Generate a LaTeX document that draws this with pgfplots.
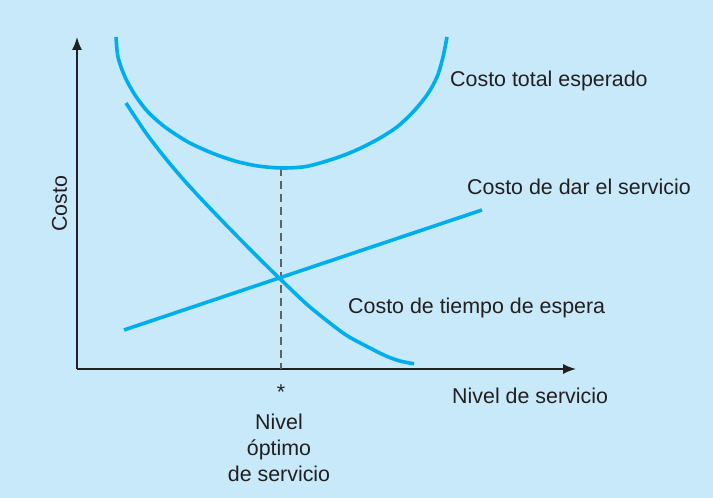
\documentclass[border=0pt]{standalone}
\usepackage{pgfplots}
\pgfplotsset{compat=1.18}
\usetikzlibrary{arrows.meta}
\usepackage{fontspec}
\setmainfont{Liberation Sans}
\definecolor{fondo}{HTML}{C7E9F9}
\definecolor{curva}{HTML}{00AEEF}
\definecolor{texto}{HTML}{231F20}
\definecolor{guia}{HTML}{5F6368}
\tikzset{lab/.style={text=texto, font=\fontsize{21.4}{25}\selectfont, inner sep=0pt}}
\begin{document}
\begin{tikzpicture}
\begin{axis}[
    scale only axis,
    width=713pt, height=498pt,
    xmin=0, xmax=713, ymin=0, ymax=498,
    hide axis,
    clip=false,
    axis background/.style={fill=fondo},
]
% ejes
\addplot[line width=1.5pt, color=texto, -{Latex[length=13pt,width=10pt]}] coordinates {(77,129) (77,461)};
\addplot[line width=1.5pt, color=texto, -{Latex[length=13pt,width=10pt]}] coordinates {(77,129) (576,129)};
% nivel optimo
\addplot[line width=2pt, color=guia, dash pattern=on 8pt off 5pt] coordinates {(281,330) (281,129)};
% costo total esperado
\addplot[line width=3.6pt, color=curva, smooth] coordinates {
(116,461) (118,441) (125,421) (135,403) (148,386) (165,371) (188,356) (212,345)
(235,337) (258,332) (282,330) (306,331.5) (330,338) (347,344) (363,351) (380,360)
(397,371) (413,386) (427,403) (437,421) (443,441) (447,461)};
% costo de tiempo de espera
\addplot[line width=3.6pt, color=curva, smooth] coordinates {
(126,395) (146,365) (166,339) (186,315.6) (206,294) (226,273.2) (246,252.8)
(266,232.8) (286,213.4) (306,194.4) (326,178) (346,163) (366,152) (386,142)
(400,137) (414,134.2)};
% costo de dar el servicio
\addplot[line width=3.6pt, color=curva] coordinates {(124,168) (482,288)};

\node[lab, anchor=base west] at (axis cs:450,411) {Costo total esperado};
\node[lab, anchor=base west] at (axis cs:467,303) {Costo de dar el servicio};
\node[lab, anchor=base west] at (axis cs:348,184) {Costo de tiempo de espera};
\node[lab, anchor=base west] at (axis cs:452,94) {Nivel de servicio};
\node[lab, anchor=base, rotate=90] at (axis cs:67,294) {Costo};
\node[lab, anchor=center] at (axis cs:281,106) {*};
\node[lab, anchor=base] at (axis cs:279,68) {Nivel};
\node[lab, anchor=base] at (axis cs:279,42) {óptimo};
\node[lab, anchor=base] at (axis cs:279,16) {de servicio};
\end{axis}
\end{tikzpicture}
\end{document}
